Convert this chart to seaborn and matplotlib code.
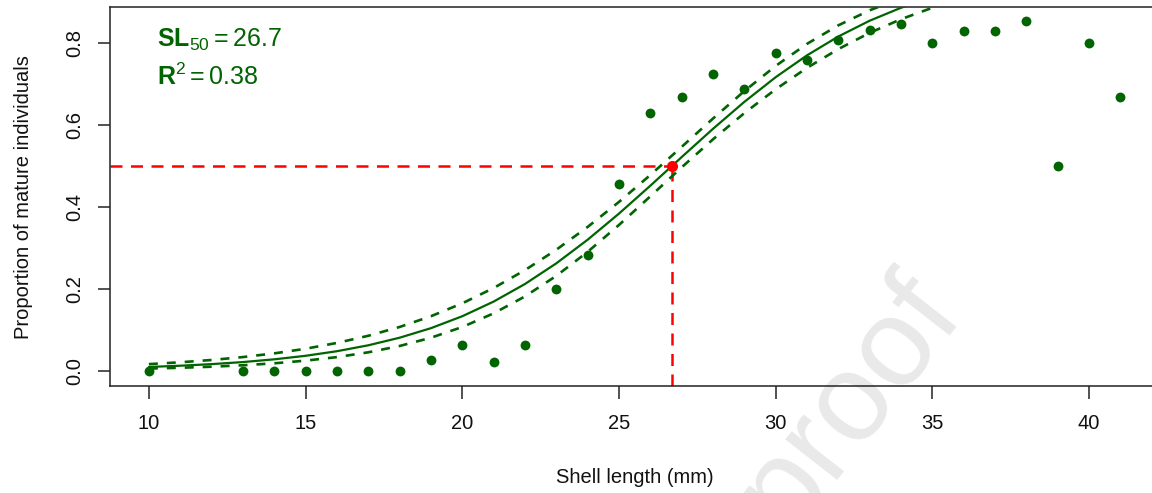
import numpy as np
import pandas as pd
import matplotlib
matplotlib.use("Agg")
import matplotlib.pyplot as plt
import seaborn as sns

# ---------------- data ----------------
shell_length = [10, 13, 14, 15, 16, 17, 18, 19, 20, 21, 22, 23, 24, 25, 26, 27, 28, 29,
                30, 31, 32, 33, 34, 35, 36, 37, 38, 39, 40, 41]
prop_mature = [0.0, 0.0, 0.0, 0.0, 0.0, 0.0, 0.0, 0.027, 0.063, 0.021, 0.063, 0.200,
               0.282, 0.455, 0.628, 0.668, 0.723, 0.686, 0.774, 0.759, 0.806, 0.832,
               0.846, 0.800, 0.829, 0.829, 0.853, 0.500, 0.800, 0.667]

curve_x = [10, 11, 12, 13, 14, 15, 16, 17, 18, 19, 20, 21, 22, 23, 24, 25, 26, 27, 28,
           29, 30, 31, 32, 33, 34, 35, 36, 37, 38, 39, 40, 41]
curve_fit = [0.0092, 0.0122, 0.0161, 0.0211, 0.0278, 0.0364, 0.0476, 0.0620, 0.0805,
             0.1038, 0.1329, 0.1686, 0.2115, 0.2619, 0.3195, 0.3832, 0.4512, 0.5210,
             0.5900, 0.6557, 0.7159, 0.7692, 0.8152, 0.8537, 0.8853, 0.9108, 0.9311,
             0.9470, 0.9594, 0.9691, 0.9765, 0.9821]
curve_upper = [0.0161, 0.0206, 0.0262, 0.0333, 0.0423, 0.0536, 0.0678, 0.0852, 0.1067,
               0.1329, 0.1644, 0.2017, 0.2453, 0.2951, 0.3507, 0.4117, 0.4773, 0.5459,
               0.6151, 0.6820, 0.7434, 0.7972, 0.8424, 0.8791, 0.9084, 0.9311, 0.9486,
               0.9618, 0.9718, 0.9792, 0.9846, 0.9887]
curve_lower = [0.0053, 0.0072, 0.0098, 0.0133, 0.0181, 0.0246, 0.0332, 0.0449, 0.0603,
               0.0805, 0.1066, 0.1399, 0.1812, 0.2313, 0.2899, 0.3555, 0.4253, 0.4960,
               0.5644, 0.6283, 0.6865, 0.7387, 0.7845, 0.8241, 0.8574, 0.8853, 0.9083,
               0.9270, 0.9420, 0.9543, 0.9640, 0.9717]

SL50 = 26.7
P50 = 0.5
R2 = 0.38

x_ticks = [10, 15, 20, 25, 30, 35, 40]
y_ticks = [0.0, 0.2, 0.4, 0.6, 0.8]
y_tick_labels = ["0.0", "0.2", "0.4", "0.6", "0.8"]

GREEN = "#006400"
RED = "#ff0000"

# ---------------- style ----------------
sns.set_style("white")
plt.rcParams["font.family"] = ["Liberation Sans", "DejaVu Sans"]
plt.rcParams["mathtext.fontset"] = "custom"
plt.rcParams["mathtext.rm"] = "Liberation Sans"
plt.rcParams["mathtext.bf"] = "Liberation Sans:bold"
plt.rcParams["mathtext.it"] = "Liberation Sans:italic"

fig = plt.figure(figsize=(11.52, 4.93), dpi=100)
ax = fig.add_axes([0.0955, 0.2170, 0.9108, 0.7682])
ax.set_xlim(8.76, 42.24)
ax.set_ylim(-0.0373, 0.8864)

obs = pd.DataFrame({"x": shell_length, "y": prop_mature})
curve = pd.DataFrame({"x": curve_x, "fit": curve_fit, "up": curve_upper, "lo": curve_lower})

# reference lines at SL50
ax.hlines(P50, ax.get_xlim()[0], SL50, colors=RED, linewidth=1.8,
          linestyles=(0, (4.8, 3.4)), zorder=2)
ax.vlines(SL50, ax.get_ylim()[0], P50, colors=RED, linewidth=1.8,
          linestyles=(0, (4.8, 3.4)), zorder=2)

# observed points
sns.scatterplot(data=obs, x="x", y="y", color=GREEN, s=50, linewidth=0, ax=ax,
                zorder=3, legend=False)

# fitted curve and CI
sns.lineplot(data=curve, x="x", y="fit", color=GREEN, linewidth=1.6, ax=ax,
             estimator=None, zorder=4, legend=False)
sns.lineplot(data=curve, x="x", y="up", color=GREEN, linewidth=1.9, ax=ax,
             estimator=None, linestyle=(0, (3.4, 3.4)), zorder=4, legend=False)
sns.lineplot(data=curve, x="x", y="lo", color=GREEN, linewidth=1.9, ax=ax,
             estimator=None, linestyle=(0, (3.4, 3.4)), zorder=4, legend=False)

# SL50 point
sns.scatterplot(x=[SL50], y=[P50], color=RED, s=64, linewidth=0, ax=ax, zorder=5,
                legend=False)

# annotations
ax.text(0.0448, 0.896, r"$\mathbf{SL}_{\mathrm{50}} = \mathrm{%.1f}$" % SL50,
        transform=ax.transAxes, color=GREEN, fontsize=18, va="baseline", ha="left")
ax.text(0.0448, 0.795, r"$\mathbf{R}^{\mathrm{2}} = \mathrm{%.2f}$" % R2,
        transform=ax.transAxes, color=GREEN, fontsize=18, va="baseline", ha="left")

# watermark
ax.text(0.738, 0.185, "proof", transform=fig.transFigure, fontsize=90,
        color="#e9e9e9", rotation=52, ha="center", va="center",
        rotation_mode="anchor", zorder=0.5, clip_on=False)

# axes styling
for side in ["left", "bottom", "top"]:
    ax.spines[side].set_visible(True)
    ax.spines[side].set_color("#222222")
    ax.spines[side].set_linewidth(1.1)
ax.spines["right"].set_visible(False)

ax.set_xticks(x_ticks)
ax.set_xticklabels([str(v) for v in x_ticks])
ax.set_yticks(y_ticks)
ax.set_yticklabels(y_tick_labels)
ax.tick_params(axis="both", direction="out", length=9, width=1.1, color="#222222",
               labelsize=14.5, labelcolor="#111111")
ax.tick_params(axis="x", pad=11, bottom=True)
ax.tick_params(axis="y", pad=9.5, left=True, labelrotation=90)
for lab in ax.get_yticklabels():
    lab.set_va("center")
    lab.set_ha("right")

ax.set_xlabel("Shell length (mm)", fontsize=14.5, color="#111111")
ax.set_ylabel("Proportion of mature individuals", fontsize=14.5, color="#111111")
ax.xaxis.set_label_coords(0.5, -0.2165)
ax.yaxis.set_label_coords(-0.0734, 0.498)

fig.savefig("out.png", dpi=100, facecolor="white")
